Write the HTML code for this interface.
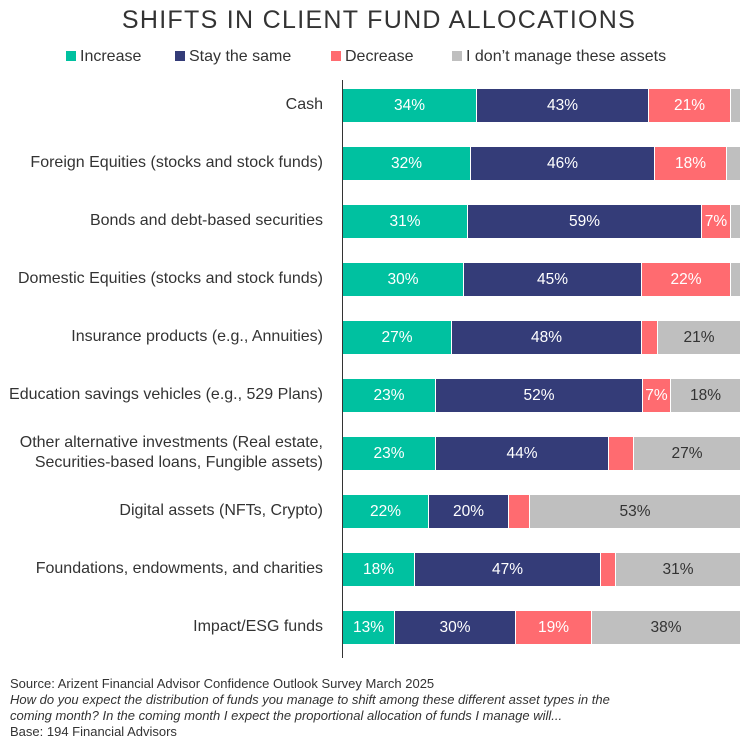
<!DOCTYPE html>
<html><head><meta charset="utf-8"><style>
body{margin:0;width:740px;height:740px;background:#fff;font-family:"Liberation Sans",sans-serif;position:relative;overflow:hidden;color:#333}
.t{position:absolute;left:0;width:740px;top:6px;text-align:center;font-size:25px;letter-spacing:1.3px;color:#333;padding-left:18px;box-sizing:border-box}
.lg{position:absolute;top:48px;font-size:16px;color:#333}
.sw{display:inline-block;width:10px;height:10px;margin-right:4px;vertical-align:0px}
.lab{position:absolute;right:417px;font-size:16px;text-align:right;line-height:20px;color:#333;white-space:nowrap}
.seg{position:absolute;height:33px;color:#fff;font-size:15.5px;text-align:center;line-height:33px}
.ft{position:absolute;left:10px;font-size:13px;color:#333;line-height:16px;top:676px}
</style></head><body>
<div class="t">SHIFTS IN CLIENT FUND ALLOCATIONS</div>
<div class="lg" style="left:66px"><span class="sw" style="background:#00c1a0"></span>Increase</div>
<div class="lg" style="left:175px"><span class="sw" style="background:#343c78"></span>Stay the same</div>
<div class="lg" style="left:331px"><span class="sw" style="background:#ff6b70"></span>Decrease</div>
<div class="lg" style="left:452px"><span class="sw" style="background:#bfbfbf"></span>I don’t manage these assets</div>
<div style="position:absolute;left:342px;top:80px;width:1px;height:578px;background:#333"></div>
<div id="c"></div>
<div class="ft">Source: Arizent Financial Advisor Confidence Outlook Survey March 2025<br><i>How do you expect the distribution of funds you manage to shift among these different asset types in the<br>coming month? In the coming month I expect the proportional allocation of funds I manage will...</i><br>Base: 194 Financial Advisors</div>
<script>
var rows=[
["Cash",[343,476,648,730,740],["34%","43%","21%",""]],
["Foreign Equities (stocks and stock funds)",[343,470,654,726,740],["32%","46%","18%",""]],
["Bonds and debt-based securities",[343,467,701,730,740],["31%","59%","7%",""]],
["Domestic Equities (stocks and stock funds)",[343,463,641,730,740],["30%","45%","22%",""]],
["Insurance products (e.g., Annuities)",[343,451,641,657,740],["27%","48%","","21%"]],
["Education savings vehicles (e.g., 529 Plans)",[343,435,642,670,740],["23%","52%","7%","18%"]],
["Other alternative investments (Real estate,<br>Securities-based loans, Fungible assets)",[343,435,608,633,740],["23%","44%","","27%"]],
["Digital assets (NFTs, Crypto)",[343,428,508,529,740],["22%","20%","","53%"]],
["Foundations, endowments, and charities",[343,414,600,615,740],["18%","47%","","31%"]],
["Impact/ESG funds",[343,394,515,591,740],["13%","30%","19%","38%"]]];
var cols=["#00c1a0","#343c78","#ff6b70","#bfbfbf"],h="";
rows.forEach(function(r,i){var y=89+i*58;var two=r[0].indexOf("<br>")>=0;
h+='<div class="lab" style="top:'+(y+16-(two?20:10))+'px">'+r[0]+'</div>';
for(var k=0;k<4;k++){var x=r[1][k]+(k?1:0),w=r[1][k+1]-x;
h+='<div class="seg" style="left:'+x+'px;top:'+y+'px;width:'+w+'px;background:'+cols[k]+';color:'+(k==3?'#333':'#fff')+'">'+r[2][k]+'</div>';}});
document.getElementById("c").innerHTML=h;
</script>
</body></html>
